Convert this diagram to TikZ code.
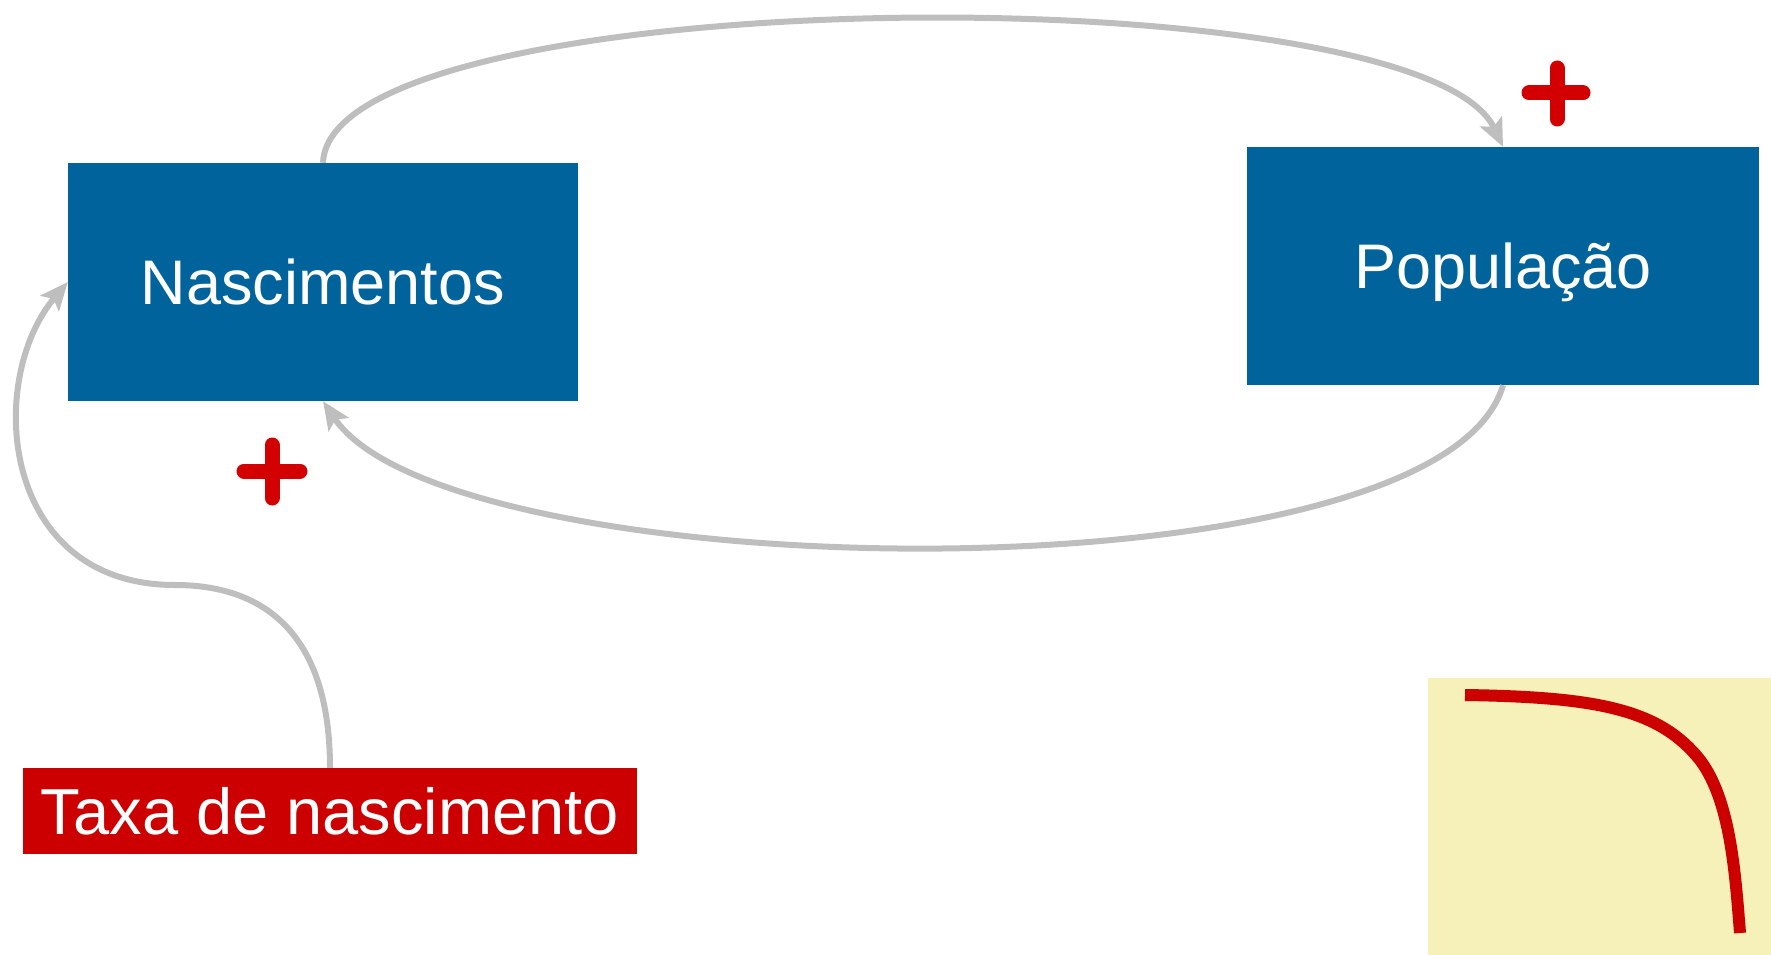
\documentclass[tikz,border=0pt]{standalone}
\usepackage{fontspec}
\setmainfont{Liberation Sans}
\usetikzlibrary{arrows.meta}
\definecolor{boxblue}{RGB}{0,99,155}
\definecolor{boxred}{RGB}{204,0,0}
\definecolor{plusred}{RGB}{210,0,0}
\definecolor{linkgray}{RGB}{190,190,190}
\definecolor{notepad}{RGB}{246,241,184}
\tikzset{
  stockbox/.style={fill=boxblue,text=white,minimum width=510pt,minimum height=238pt,inner sep=0pt,
    text height=45pt,text depth=0pt},
  link/.style={draw=linkgray,line width=6pt,-{Stealth[length=28pt,width=24pt,inset=6pt]}},
  plussign/.style={draw=plusred,line width=15pt,line cap=round}
}
\begin{document}
\begin{tikzpicture}[x=1pt,y=-1pt,font=\fontsize{63}{76}\selectfont]
\useasboundingbox (0,0) rectangle (1771,955);

\node[stockbox] (nasc) at (323,282) {Nascimentos};
\node[stockbox,minimum width=512pt] (pop) at (1503,266) {População};
\node[fill=boxred,text=white,minimum width=614pt,minimum height=86pt,inner sep=0pt,
      text height=46pt,text depth=0pt,font=\fontsize{65}{76}\selectfont] (taxa) at (330,811) {Taxa de nascimento};

\draw[link] (nasc.north) .. controls (330,-20) and (1420,-29) .. (pop.north);
\draw[link] (pop.south) .. controls (1440,605) and (450,590) .. (nasc.south);
\draw[link] (taxa.north) .. controls (330,640) and (270,585) .. (175,585)
  .. controls (0,585) and (-15,380) .. (nasc.west);

% signs
\draw[plussign] (1529,93) -- (1583,93);
\draw[plussign] (1557,68) -- (1557,119);
\draw[plussign] (244,471) -- (300,471);
\draw[plussign] (272,445) -- (272,498);

% small chart
\fill[notepad] (1428,678) rectangle (1771,955);
\draw[boxred,line width=12pt] (1465,695) .. controls (1600,697) and (1660,710) .. (1700,760)
  .. controls (1730,800) and (1735,870) .. (1740,933);
\end{tikzpicture}
\end{document}
